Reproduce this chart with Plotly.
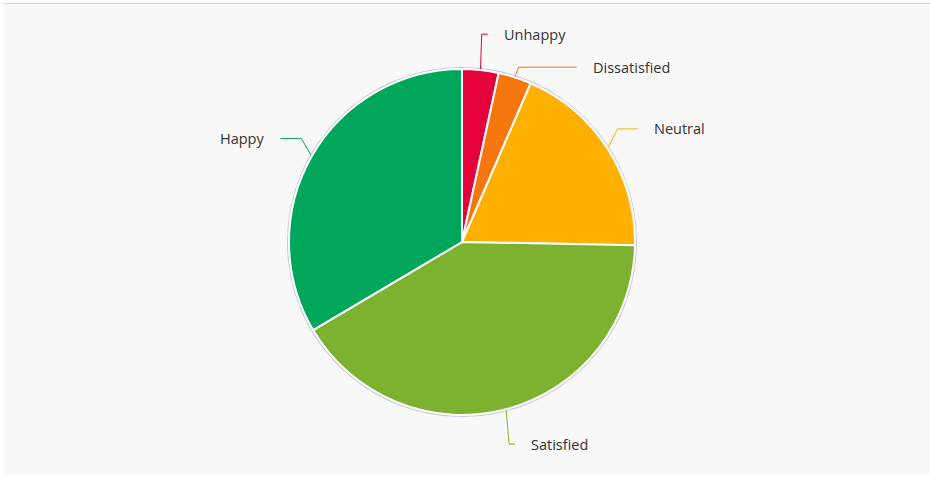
import math
import plotly.graph_objects as go

# Survey satisfaction breakdown (percent of responses)
categories = ["Unhappy", "Dissatisfied", "Neutral", "Satisfied", "Happy"]
shares = [3.4, 3.1, 18.8, 41.2, 33.5]
colors = ["#e4003b", "#f7770f", "#ffb000", "#7cb22f", "#00a659"]

W, H = 930, 478
CX, CY, R = 462.0, 242.0, 173.0   # pie centre / radius in pixels
LABEL_DIST = 36.0                 # label ring distance outside the pie
MIN_GAP = 33.0                    # minimum vertical spacing between labels
TEXT_PAD = 14.0

fig = go.Figure()

fig.add_trace(go.Pie(
    labels=categories,
    values=shares,
    sort=False,
    direction="clockwise",
    rotation=0,
    marker=dict(colors=colors, line=dict(color="#ffffff", width=2)),
    textinfo="none",
    hoverinfo="label+percent",
    showlegend=False,
    domain=dict(x=[(CX - R) / W, (CX + R) / W],
                y=[(H - CY - R) / H, (H - CY + R) / H]),
))

# mid-angle of each slice, measured clockwise from 12 o'clock
total = sum(shares)
mids = []
acc = 0.0
for v in shares:
    mids.append((acc + v / 2) / total * 2 * math.pi)
    acc += v

RL = R + LABEL_DIST
labels = []
for name, col, th in zip(categories, colors, mids):
    side = 1 if math.sin(th) >= 0 else -1
    ly = CY - RL * math.cos(th)
    labels.append(dict(name=name, color=col, th=th, side=side, y=ly))

# push overlapping labels apart on each side
for side in (1, -1):
    grp = sorted([l for l in labels if l["side"] == side], key=lambda l: l["y"])
    for a, b in zip(grp, grp[1:]):
        if b["y"] - a["y"] < MIN_GAP:
            b["y"] = a["y"] + MIN_GAP

for l in labels:
    th, side = l["th"], l["side"]
    x0 = CX + R * math.sin(th)
    y0 = CY - R * math.cos(th)
    bx = CX + (R + 12) * math.sin(th)
    dy = l["y"] - CY
    ex = CX + side * math.sqrt(max(RL * RL - dy * dy, 0.0))
    if side > 0:
        ex = max(ex, bx + 6)
    else:
        ex = min(ex, bx - 6)
    fig.add_trace(go.Scatter(
        x=[x0, bx, ex], y=[y0, l["y"], l["y"]],
        mode="lines", line=dict(color=l["color"], width=1),
        hoverinfo="skip", showlegend=False,
        xaxis="x", yaxis="y",
    ))
    fig.add_annotation(
        x=ex + side * TEXT_PAD, y=l["y"], xref="x", yref="y",
        text=l["name"], showarrow=False,
        xanchor="left" if side > 0 else "right", yanchor="middle",
        font=dict(family="Open Sans, Lato, sans-serif", size=14.5, color="#333333"),
    )

fig.update_layout(
    width=W, height=H,
    margin=dict(l=0, r=0, t=0, b=0, pad=0),
    paper_bgcolor="#ffffff",
    plot_bgcolor="rgba(0,0,0,0)",
    xaxis=dict(range=[0, W], visible=False, fixedrange=True),
    yaxis=dict(range=[H, 0], visible=False, fixedrange=True),
    shapes=[
        dict(type="rect", xref="x", yref="y", x0=4, x1=W, y0=3, y1=475,
             fillcolor="#f8f8f8", line=dict(width=0), layer="below"),
        dict(type="line", xref="x", yref="y", x0=4, x1=W, y0=3.5, y1=3.5,
             line=dict(color="#d6d6d6", width=1), layer="below"),
        dict(type="circle", xref="x", yref="y",
             x0=CX - R - 2, x1=CX + R + 2, y0=CY - R - 2, y1=CY + R + 2,
             fillcolor="rgba(150,155,190,0.5)", line=dict(width=0), layer="below"),
    ],
)

fig.write_html("out.html")
